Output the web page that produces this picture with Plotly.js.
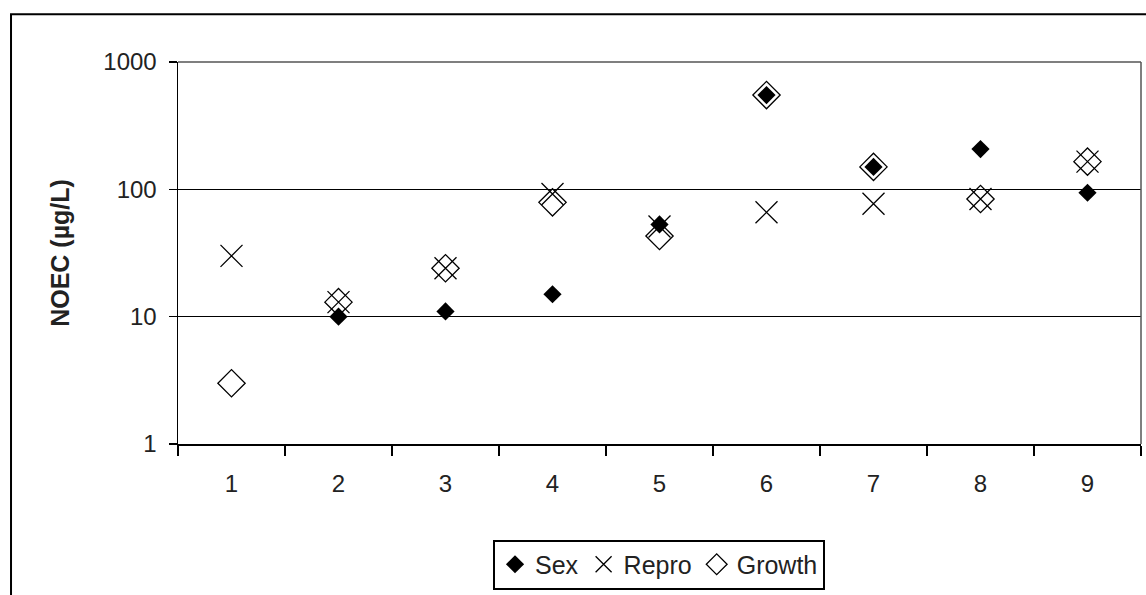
<!DOCTYPE html>
<html><head><meta charset="utf-8">
<script src="https://cdn.plot.ly/plotly-3.0.1.min.js"></script>
<style>html,body{margin:0;padding:0;background:#fff;}#chart{width:1146px;height:595px;}</style>
</head><body><div id="chart"></div>
<script>
const categories = ['1','2','3','4','5','6','7','8','9'];
const sexValues    = [null, 10, 11, 15, 53, 550, 150, 207, 94];
const reproValues  = [30, 13, 24, 92, 51, 66, 77, 84, 165];
const growthValues = [3, 13, 24, 79, 43, 550, 150, 84, 165];
const yTickVals = [1, 10, 100, 1000];
const yTickText = ['1', '10', '100', '1000'];

const font = {family: 'Liberation Sans, Arial, sans-serif', color: '#222'};

const traces = [
  {name: 'Sex', x: categories, y: sexValues, type: 'scatter', mode: 'markers',
   marker: {symbol: 'diamond', size: 14, color: '#000'}},
  {name: 'Repro', x: categories, y: reproValues, type: 'scatter', mode: 'markers',
   marker: {symbol: 'x-thin-open', size: 22, color: '#000', line: {width: 1.3, color: '#000'}}},
  {name: 'Growth', x: categories, y: growthValues, type: 'scatter', mode: 'markers',
   marker: {symbol: 'diamond-open', size: 21, color: '#000', line: {width: 1.3, color: '#000'}}}
];

const layout = {
  width: 1146, height: 595,
  margin: {l: 178, r: 5, t: 62, b: 149},
  paper_bgcolor: '#fff', plot_bgcolor: '#fff',
  font: Object.assign({size: 23}, font),
  showlegend: true,
  legend: {orientation: 'h', x: 0.4995, xanchor: 'center', y: -0.25, yanchor: 'top',
    bordercolor: '#000', borderwidth: 2, font: Object.assign({size: 25}, font),
    itemwidth: 30, tracegroupgap: 0},
  xaxis: {type: 'category', categoryorder: 'array', categoryarray: categories,
    range: [-0.5, 8.5], tickson: 'boundaries', ticks: 'outside', ticklen: 10, tickwidth: 1.5,
    tickcolor: '#000', showline: true, linecolor: '#000', linewidth: 1.5, ticklabelstandoff: 18,
    showgrid: false, zeroline: false, tickfont: Object.assign({size: 24}, font), fixedrange: true},
  yaxis: {type: 'log', range: [0, 3], tickvals: yTickVals, ticktext: yTickText,
    ticks: 'outside', ticklen: 8, tickwidth: 1.5, tickcolor: '#000', ticklabelstandoff: 7,
    showline: true, linecolor: '#000', linewidth: 1.5,
    showgrid: true, gridcolor: '#000', gridwidth: 1.5, zeroline: false,
    tickfont: Object.assign({size: 24}, font),
    title: {text: '<b>NOEC (µg/L)</b>', font: Object.assign({size: 25}, font), standoff: 26},
    fixedrange: true},
  shapes: [
    {type: 'line', xref: 'paper', yref: 'paper', x0: 0, x1: 1, y0: 1, y1: 1,
     line: {color: '#555', width: 1.5}},
    {type: 'line', xref: 'paper', yref: 'paper', x0: 1, x1: 1, y0: 0, y1: 1,
     line: {color: '#555', width: 1.5}},
    {type: 'rect', xref: 'paper', yref: 'paper', x0: -0.1734, x1: 1.03, y0: -0.45, y1: 1.125,
     line: {color: '#000', width: 2}, fillcolor: 'rgba(0,0,0,0)', layer: 'below'}
  ]
};

Plotly.newPlot('chart', traces, layout, {displayModeBar: false, staticPlot: true});
</script></body></html>
